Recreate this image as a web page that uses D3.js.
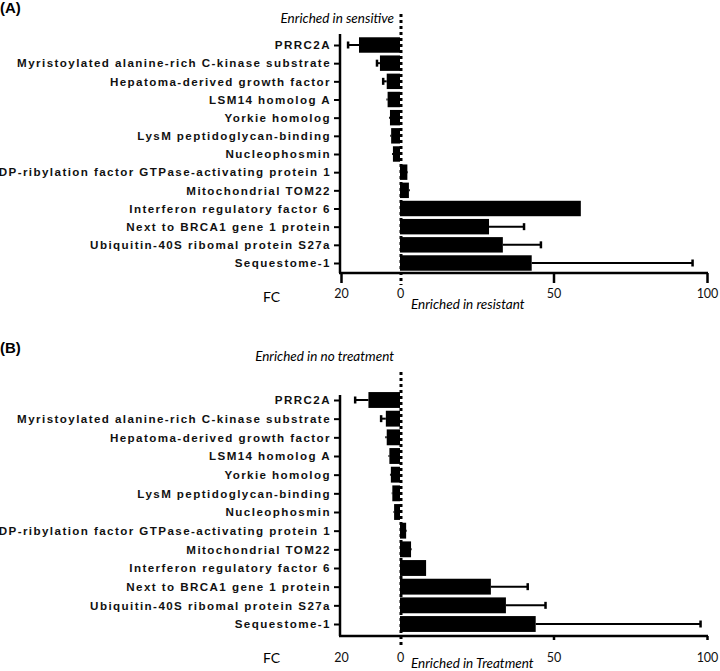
<!DOCTYPE html>
<html><head><meta charset="utf-8">
<script src="https://cdn.jsdelivr.net/npm/d3@7"></script>
<style>
body{margin:0;background:#fff;}
svg{display:block;}
.lab{font-family:"Liberation Sans",Arial,sans-serif;font-weight:bold;font-size:11.6px;letter-spacing:1.42px;}
.it{font-family:Lato,"Open Sans",sans-serif;font-style:italic;font-size:13.5px;}
.tk{font-family:Lato,"Open Sans",sans-serif;font-size:12.5px;}
</style></head><body>
<script>
const categories = [
  "PRRC2A",
  "Myristoylated alanine-rich C-kinase substrate",
  "Hepatoma-derived growth factor",
  "LSM14 homolog A",
  "Yorkie homolog",
  "LysM peptidoglycan-binding",
  "Nucleophosmin",
  "DP-ribylation factor GTPase-activating protein 1",
  "Mitochondrial TOM22",
  "Interferon regulatory factor 6",
  "Next to BRCA1 gene 1 protein",
  "Ubiquitin-40S ribomal protein S27a",
  "Sequestome-1"
];
const valuesA = [-13.9, -6.8, -4.5, -4.2, -3.4, -3.0, -2.4, 2.4, 2.9, 58.9, 29.0, 33.5, 42.9];
const errorsA = [3.7, 1.0, 1.2, 0.4, 0.3, 0.3, 0.3, 0.2, 0.3, 0, 11.4, 12.4, 52.4];
const valuesB = [-10.7, -4.8, -4.5, -3.6, -3.1, -2.6, -2.0, 2.0, 3.6, 8.5, 29.6, 34.5, 44.2];
const errorsB = [4.5, 1.6, 0.5, 0.3, 0.3, 0.2, 0.2, 0.2, 0.2, 0, 12.0, 12.9, 53.7];
const tickValues = [-20, 0, 50, 100];
const panels = [
  {tag:"(A)", values:valuesA, errors:errorsA, top:"Enriched in sensitive", bottom:"Enriched in resistant",
   tagY:13, topY:23, dashTop:14, dashBot:285, axTop:34, axY:273, rowTop:45, rowBot:263, tickLen:10, tickPad:6.5, leftTick:true, botY:309, fcY:302},
  {tag:"(B)", values:valuesB, errors:errorsB, top:"Enriched in no treatment", bottom:"Enriched in Treatment",
   tagY:353, topY:361, dashTop:372, dashBot:648, axTop:395, axY:636, rowTop:400, rowBot:624, tickLen:4, tickPad:13.5, leftTick:false, botY:668, fcY:663}
];

const W = 720, H = 671;
const svg = d3.select("body").append("svg").attr("width", W).attr("height", H);
const x = d3.scaleLinear().domain([-20, 0, 100]).range([341, 400, 707]);

panels.forEach(p => {
  const g = svg.append("g");
  const y = d3.scalePoint().domain(categories).range([p.rowTop, p.rowBot]);
  const bh = y.step() * 0.85;

  g.append("text").attr("x", 0).attr("y", p.tagY)
    .style("font-family", "Liberation Sans, Arial, sans-serif").style("font-weight", "bold").style("font-size", "15px")
    .text(p.tag);

  // bars
  g.selectAll("rect.bar").data(categories).join("rect")
    .attr("x", (d, i) => Math.min(x(0), x(p.values[i])))
    .attr("y", d => y(d) - bh / 2)
    .attr("width", (d, i) => Math.abs(x(p.values[i]) - x(0)))
    .attr("height", bh)
    .attr("fill", "#000");

  // error bars
  const ends = p.values.map((v, i) => v + Math.sign(v) * p.errors[i]);
  const eb = g.selectAll("g.err").data(categories).join("g");
  eb.append("line")
    .attr("x1", (d, i) => x(p.values[i]))
    .attr("x2", (d, i) => x(ends[i]))
    .attr("y1", d => y(d)).attr("y2", d => y(d))
    .attr("stroke", "#000").attr("stroke-width", 2);
  eb.filter((d, i) => p.errors[i] > 0.6).append("line")
    .attr("x1", d => x(ends[categories.indexOf(d)]))
    .attr("x2", d => x(ends[categories.indexOf(d)]))
    .attr("y1", d => y(d) - 3.5).attr("y2", d => y(d) + 3.5)
    .attr("stroke", "#000").attr("stroke-width", 2.5);

  // y axis
  const yAxis = d3.axisLeft(y).tickSize(6).tickPadding(3);
  const ya = g.append("g").attr("transform", `translate(340,0)`).call(yAxis);
  ya.select(".domain").attr("d", `M0,${p.axTop}V${p.axY}`).attr("stroke-width", 2.5);
  ya.selectAll(".tick line").attr("stroke-width", 2);
  ya.selectAll(".tick text").attr("class", "lab").attr("fill", "#111");

  // x axis
  const xAxis = d3.axisBottom(x).tickValues(tickValues).tickSize(p.tickLen).tickPadding(p.tickPad)
    .tickFormat(d => Math.abs(d));
  const xa = g.append("g").attr("transform", `translate(0,${p.axY})`).call(xAxis);
  xa.select(".domain").attr("d", `M339,0H708`).attr("stroke-width", 2.5);
  xa.selectAll(".tick line").attr("stroke-width", 2.5)
    .attr("opacity", d => (d === 0 || (d === -20 && !p.leftTick)) ? 0 : 1);
  xa.selectAll(".tick text").attr("class", "tk").attr("fill", "#111");

  // zero dotted line
  g.append("line").attr("x1", 401).attr("x2", 401).attr("y1", p.dashTop).attr("y2", p.dashBot)
    .attr("stroke", "#000").attr("stroke-width", 3).attr("stroke-dasharray", "3,3");

  // annotations
  g.append("text").attr("class", "it").attr("x", 394).attr("y", p.topY).attr("text-anchor", "end").text(p.top);
  g.append("text").attr("class", "it").attr("x", 411).attr("y", p.botY).text(p.bottom);
  g.append("text").attr("class", "tk").style("font-size", "14px").attr("x", 263).attr("y", p.fcY).text("FC");
});
</script>
</body></html>
